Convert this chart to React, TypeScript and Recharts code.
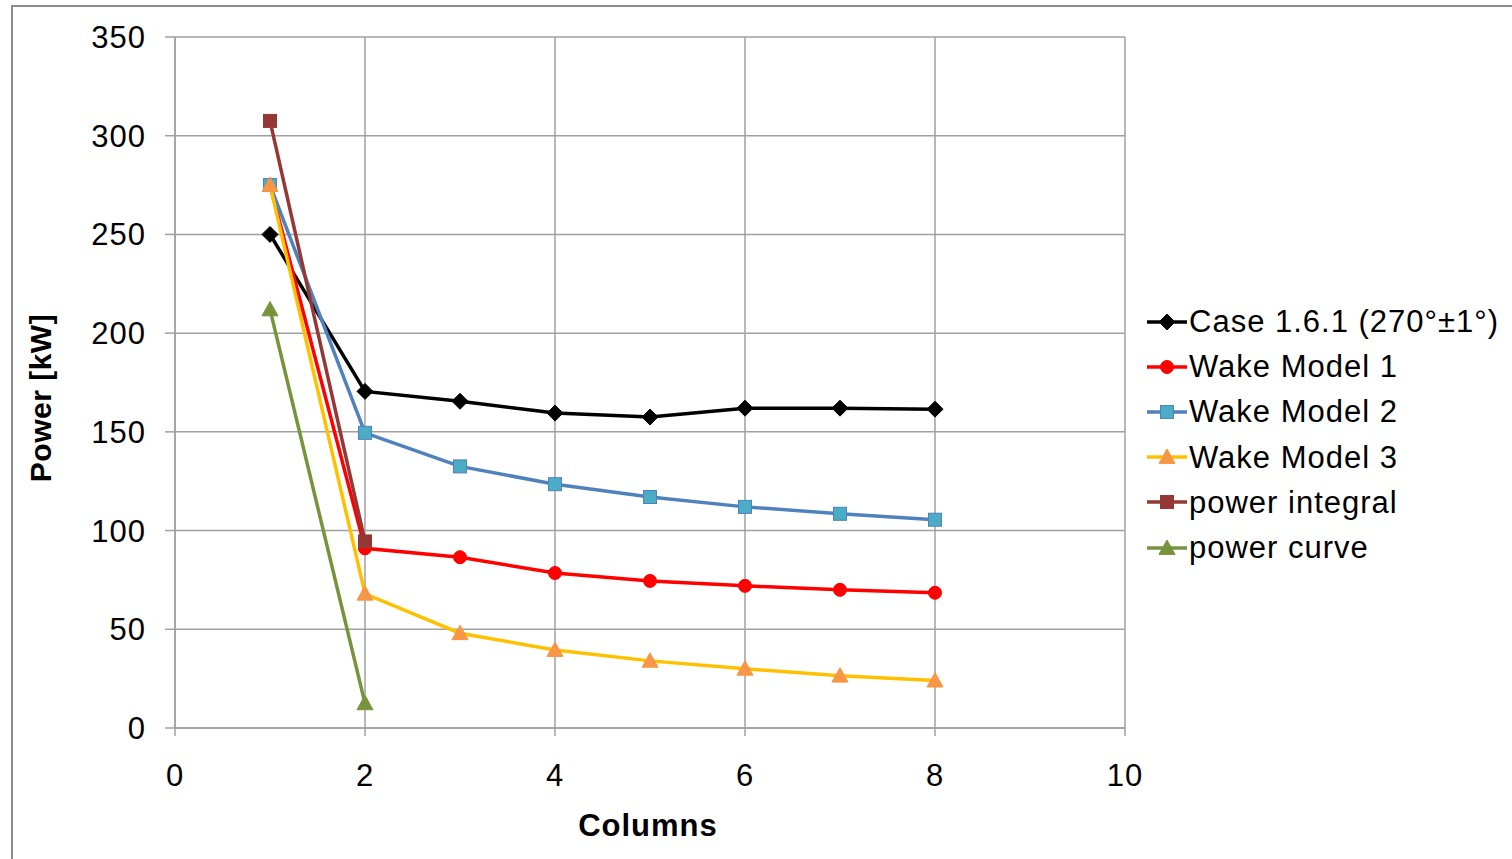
import { LineChart, Line, XAxis, YAxis, CartesianGrid, Legend } from "recharts";

const columns = [1, 2, 3, 4, 5, 6, 7, 8];
const case161 = [250, 170.5, 165.5, 159.5, 157.5, 162, 162, 161.5];
const wakeModel1 = [275, 91, 86.5, 78.5, 74.5, 72, 70, 68.5];
const wakeModel2 = [275, 149.5, 132.5, 123.5, 117, 112, 108.5, 105.5];
const wakeModel3 = [275, 68, 48, 39.5, 34, 30, 26.5, 24];
const powerIntegral = [307.5, 94.5];
const powerCurve = [212, 12.5];

const xTicks = [0, 2, 4, 6, 8, 10];
const yTicks = [0, 50, 100, 150, 200, 250, 300, 350];

const FONT = "'Liberation Sans', Arial, sans-serif";
const GRID = "#a0a0a0";
const FS = 31;
const LS = 1;

type Shape = "diamond" | "circle" | "square" | "triangle";

const toPoints = (vals: number[]) => vals.map((y, i) => ({ x: columns[i], y }));

const series = [
  { name: "Case 1.6.1 (270°±1°)", data: toPoints(case161), line: "#000000", fill: "#000000", stroke: "#000000", shape: "diamond" as Shape },
  { name: "Wake Model 1", data: toPoints(wakeModel1), line: "#ff0000", fill: "#ff0000", stroke: "#ff0000", shape: "circle" as Shape },
  { name: "Wake Model 2", data: toPoints(wakeModel2), line: "#4f81bd", fill: "#4bacc6", stroke: "#4f81bd", shape: "square" as Shape },
  { name: "Wake Model 3", data: toPoints(wakeModel3), line: "#ffc000", fill: "#f79646", stroke: "#f79646", shape: "triangle" as Shape },
  { name: "power integral", data: toPoints(powerIntegral), line: "#953735", fill: "#953735", stroke: "#953735", shape: "square" as Shape },
  { name: "power curve", data: toPoints(powerCurve), line: "#77933c", fill: "#77933c", stroke: "#77933c", shape: "triangle" as Shape },
];

function marker(shape: Shape, cx: number, cy: number, fill: string, stroke: string, key?: string) {
  if (shape === "diamond") {
    const r = 8;
    return <polygon key={key} points={`${cx},${cy - r} ${cx + r},${cy} ${cx},${cy + r} ${cx - r},${cy}`} fill={fill} stroke={stroke} strokeWidth={1} />;
  }
  if (shape === "circle") {
    return <circle key={key} cx={cx} cy={cy} r={6.5} fill={fill} stroke={stroke} strokeWidth={1} />;
  }
  if (shape === "square") {
    const h = 6.5;
    return <rect key={key} x={cx - h} y={cy - h} width={h * 2} height={h * 2} fill={fill} stroke={stroke} strokeWidth={1} />;
  }
  const s = 8;
  return <polygon key={key} points={`${cx},${cy - s} ${cx + s},${cy + s * 0.8} ${cx - s},${cy + s * 0.8}`} fill={fill} stroke={stroke} strokeWidth={1} />;
}

const makeDot = (shape: Shape, fill: string, stroke: string) => (props: any) =>
  marker(shape, props.cx, props.cy, fill, stroke, `dot-${props.index}`);

const renderLegend = () => (
  <div style={{ fontFamily: FONT, fontSize: FS, letterSpacing: LS, color: "#000" }}>
    {series.map((s) => (
      <div key={s.name} style={{ display: "flex", alignItems: "center", height: 45.2, whiteSpace: "nowrap" }}>
        <svg width={42} height={20} style={{ overflow: "visible" }}>
          <line x1={0} x2={40} y1={10} y2={10} stroke={s.line} strokeWidth={3.5} />
          {marker(s.shape, 20, 10, s.fill, s.stroke)}
        </svg>
        <span style={{ lineHeight: 1 }}>{s.name}</span>
      </div>
    ))}
  </div>
);

const YTitle = (props: any) => {
  const vb = props.viewBox;
  const x = vb.x + 40;
  const y = 398;
  return (
    <text x={x} y={y} transform={`rotate(-90, ${x}, ${y})`} textAnchor="middle" dominantBaseline="central"
      fontFamily={FONT} fontSize={30} letterSpacing={0.5} fontWeight="bold" fill="#000">
      Power [kW]
    </text>
  );
};

const XTitle = (props: any) => {
  const vb = props.viewBox;
  return (
    <text x={vb.x + vb.width / 2 - 2} y={vb.y + 97} textAnchor="middle" dominantBaseline="central"
      fontFamily={FONT} fontSize={FS} letterSpacing={LS} fontWeight="bold" fill="#000">
      Columns
    </text>
  );
};

const tickStyle = { fontFamily: FONT, fontSize: FS, letterSpacing: LS, fill: "#000" };

export default function App() {
  return (
    <div style={{ position: "fixed", left: 0, top: 0, width: 1512, height: 859, overflow: "hidden", background: "#fff" }}>
      <div style={{ position: "absolute", left: 11, top: 5, width: 1700, height: 1000, border: "2px solid #8c8c8c" }} />
      <div style={{ position: "absolute", left: 0, top: 0 }}>
        <LineChart width={1512} height={859} margin={{ top: 37, right: 387, bottom: 0, left: 0 }}>
          <CartesianGrid stroke={GRID} strokeWidth={1.5} />
          <XAxis
            type="number"
            dataKey="x"
            domain={[0, 10]}
            ticks={xTicks}
            height={131}
            tickSize={8}
            tickMargin={28}
            stroke={GRID}
            strokeWidth={1.5}
            tick={tickStyle}
            label={<XTitle />}
            allowDataOverflow
          />
          <YAxis
            type="number"
            domain={[0, 350]}
            ticks={yTicks}
            width={175}
            tickSize={10}
            tickMargin={19}
            stroke={GRID}
            strokeWidth={1.5}
            tick={tickStyle}
            label={<YTitle />}
            allowDataOverflow
          />
          <Legend
            layout="vertical"
            align="center"
            verticalAlign="middle"
            wrapperStyle={{ left: 1147, top: 299, width: "auto" }}
            content={renderLegend}
          />
          {series.map((s) => (
            <Line
              key={s.name}
              data={s.data}
              dataKey="y"
              name={s.name}
              stroke={s.line}
              strokeWidth={3.5}
              dot={makeDot(s.shape, s.fill, s.stroke)}
              activeDot={false}
              isAnimationActive={false}
            />
          ))}
        </LineChart>
      </div>
    </div>
  );
}
